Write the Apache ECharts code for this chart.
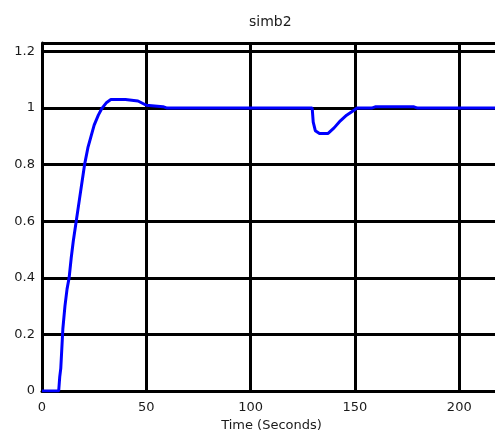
<!DOCTYPE html>
<html>
<head>
<meta charset="utf-8">
<script src="https://cdn.jsdelivr.net/npm/echarts@6/dist/echarts.min.js"></script>
<style>
  html, body { margin: 0; padding: 0; background: #fff; }
  #chart { width: 495px; height: 439px; }
</style>
</head>
<body>
<div id="chart"></div>
<script>
// time samples (seconds) and response values
const times = [0, 8, 8.5, 9, 9.5, 10, 11, 12, 13, 14, 15, 16.4, 18, 19, 20.4, 22, 23.5, 25, 27, 28.8, 31, 33, 40, 46, 50, 58, 60,
  127, 129.5, 130, 131, 133, 137, 140, 143, 146, 149, 151, 158, 160, 178, 180, 220]
const values = [0, 0, 0.05, 0.08, 0.15, 0.22, 0.3, 0.36, 0.4, 0.47, 0.53, 0.6, 0.68, 0.73, 0.8, 0.86, 0.9, 0.94, 0.975, 1.0, 1.02, 1.03, 1.03, 1.025, 1.01, 1.005, 1.0,
  1.0, 1.0, 0.95, 0.92, 0.91, 0.91, 0.93, 0.955, 0.975, 0.99, 1.0, 1.0, 1.005, 1.005, 1.0, 1.0]
const xTicks = [0, 50, 100, 150, 200]
const yTicks = [0, 0.2, 0.4, 0.6, 0.8, 1, 1.2]

const chart = echarts.init(document.getElementById('chart'))

const labelFont = { fontFamily: 'DejaVu Sans, sans-serif', fontSize: 13, color: '#1a1a1a' }

chart.setOption({
  animation: false,
  // title is centred over the plot frame, not the window
  title: {
    text: 'simb2',
    left: 244,
    top: 10,
    textStyle: { fontFamily: 'DejaVu Sans, sans-serif', fontSize: 14, fontWeight: 'normal', color: '#1a1a1a' }
  },
  // right edge of the frame sits just past the window, as in the original
  grid: { left: 42, right: -6, top: 43, bottom: 48, outerBoundsMode: 'none' },
  xAxis: {
    type: 'value',
    min: 0,
    max: 220,
    interval: 50,
    name: 'Time (Seconds)',
    nameLocation: 'middle',
    nameGap: 24,
    nameTextStyle: labelFont,
    axisLine: { show: true, lineStyle: { color: '#000', width: 3 } },
    axisTick: { show: false },
    axisLabel: Object.assign({ margin: 10, formatter: v => xTicks.includes(v) ? String(v) : '' }, labelFont),
    splitLine: { show: true, lineStyle: { color: '#000', width: 3 } }
  },
  yAxis: {
    type: 'value',
    min: 0,
    max: 1.23,
    interval: 0.2,
    axisLine: { show: true, lineStyle: { color: '#000', width: 3 } },
    axisTick: { show: false },
    axisLabel: Object.assign({ margin: 7, formatter: v => yTicks.some(t => Math.abs(t - v) < 1e-6) ? String(+v.toFixed(1)) : '' }, labelFont),
    splitLine: { show: true, lineStyle: { color: '#000', width: 3 } }
  },
  series: [{
    type: 'line',
    data: times.map((t, i) => [t, values[i]]),
    showSymbol: false,
    lineStyle: { color: '#0000ff', width: 3 },
    itemStyle: { color: '#0000ff' },
    z: 5
  }]
})
</script>
</body>
</html>
